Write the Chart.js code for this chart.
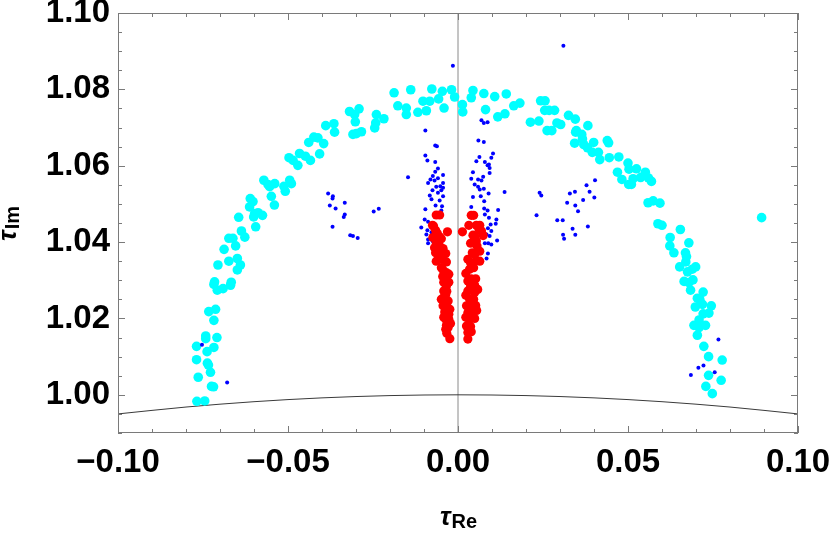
<!DOCTYPE html>
<html>
<head>
<meta charset="utf-8">
<script src="https://cdn.jsdelivr.net/npm/chart.js@4"></script>
<style>
  body { margin: 0; background: #fff; }
</style>
</head>
<body>
<canvas id="c" width="832" height="535"></canvas>
<script>
// tau plane: Re on x, Im on y
const xTicks = [-0.10, -0.05, 0.00, 0.05, 0.10];
const yTicks = [1.00, 1.02, 1.04, 1.06, 1.08, 1.10];

// cyan: big points on the outer arc
const cyanPts = [
  [-0.0188,1.0791],[-0.0139,1.0799],[-0.0077,1.0801],[-0.0046,1.0795],[-0.0019,1.0799],[-0.0010,1.0780],
  [-0.0057,1.0775],[-0.0103,1.0769],[-0.0083,1.0769],[-0.0041,1.0751],[-0.0093,1.0744],[-0.0118,1.0740],
  [-0.0152,1.0751],[-0.0152,1.0734],[-0.0177,1.0757],[-0.0291,1.0749],[-0.0319,1.0742],[-0.0304,1.0734],
  [-0.0240,1.0734],[-0.0218,1.0723],[-0.0242,1.0712],[-0.0245,1.0699],[-0.0302,1.0715],[-0.0365,1.0710],
  [-0.0389,1.0705],[-0.0363,1.0688],[-0.0309,1.0682],[-0.0299,1.0684],[-0.0284,1.0689],[-0.0439,1.0661],
  [-0.0424,1.0675],[-0.0412,1.0673],[-0.0395,1.0658],[-0.0407,1.0631],[-0.0466,1.0632],[-0.0449,1.0625],
  [-0.0434,1.0614],[-0.0497,1.0621],[-0.0485,1.0614],[-0.0471,1.0601],[-0.0571,1.0562],[-0.0559,1.0551],
  [-0.0539,1.0553],[-0.0554,1.0545],[-0.0495,1.0562],[-0.0490,1.0553],[-0.0512,1.0546],[-0.0508,1.0533],
  [-0.0549,1.0520],[-0.0540,1.0497],[-0.0611,1.0514],[-0.0603,1.0506],[-0.0613,1.0492],[-0.0598,1.0475],
  [-0.0588,1.0477],[-0.0575,1.0470],[-0.0601,1.0466],[-0.0645,1.0465],[-0.0595,1.0440],[-0.0637,1.0429],
  [-0.0627,1.0413],[-0.0674,1.0410],[-0.0662,1.0410],[-0.0654,1.0390],[-0.0688,1.0381],[-0.0649,1.0357],
  [-0.0674,1.0350],[-0.0640,1.0340],[-0.0649,1.0327],[-0.0706,1.0340],[-0.0716,1.0296],[-0.0718,1.0289],
  [-0.0708,1.0274],[-0.0691,1.0278],[-0.0667,1.0295],[-0.0669,1.0287],[-0.0733,1.0218],[-0.0713,1.0224],
  [-0.0718,1.0195],[-0.0742,1.0154],[-0.0742,1.0147],[-0.0709,1.0150],[-0.0769,1.0127],[-0.0738,1.0113],
  [-0.0718,1.0124],[-0.0769,1.0092],[-0.0737,1.0083],[-0.0734,1.0078],[-0.0728,1.0059],[-0.0764,1.0046],
  [-0.0725,1.0022],[-0.0719,1.0021],[-0.0768,0.9983],[-0.0745,0.9984],
  [0.0013,1.0760],[0.0014,1.0741],[0.0044,1.0797],[0.0039,1.0778],[0.0076,1.0789],[0.0108,1.0781],
  [0.0142,1.0788],[0.0081,1.0747],[0.0117,1.0728],[0.0138,1.0736],[0.0164,1.0757],[0.0182,1.0764],
  [0.0213,1.0714],[0.0238,1.0717],[0.0243,1.0770],[0.0256,1.0770],[0.0255,1.0745],[0.0268,1.0745],
  [0.0284,1.0745],[0.0262,1.0692],[0.0276,1.0692],[0.0291,1.0712],[0.0302,1.0708],[0.0325,1.0732],
  [0.0345,1.0722],[0.0382,1.0705],[0.0348,1.0692],[0.0346,1.0688],[0.0364,1.0682],[0.0366,1.0670],
  [0.0343,1.0659],[0.0370,1.0655],[0.0381,1.0647],[0.0399,1.0661],[0.0395,1.0635],[0.0413,1.0635],
  [0.0417,1.0616],[0.0439,1.0666],[0.0443,1.0660],[0.0445,1.0621],[0.0473,1.0623],[0.0500,1.0607],
  [0.0503,1.0591],[0.0525,1.0592],[0.0469,1.0583],[0.0482,1.0564],[0.0502,1.0551],[0.0510,1.0551],
  [0.0515,1.0566],[0.0537,1.0569],[0.0551,1.0583],[0.0560,1.0568],[0.0569,1.0559],[0.0559,1.0503],
  [0.0574,1.0508],[0.0594,1.0502],[0.0588,1.0448],[0.0600,1.0444],[0.0654,1.0433],[0.0624,1.0412],
  [0.0679,1.0398],[0.0623,1.0390],[0.0635,1.0372],[0.0669,1.0372],[0.0672,1.0362],[0.0670,1.0348],
  [0.0652,1.0335],[0.0675,1.0322],[0.0689,1.0329],[0.0699,1.0335],[0.0665,1.0297],[0.0679,1.0294],
  [0.0691,1.0301],[0.0684,1.0274],[0.0721,1.0269],[0.0704,1.0253],[0.0711,1.0250],[0.0719,1.0237],
  [0.0698,1.0230],[0.0745,1.0233],[0.0721,1.0212],[0.0738,1.0214],[0.0709,1.0196],[0.0694,1.0182],
  [0.0709,1.0176],[0.0728,1.0182],[0.0704,1.0156],[0.0723,1.0127],[0.0737,1.0100],[0.0777,1.0091],
  [0.0737,1.0051],[0.0774,1.0038],[0.0729,1.0022],[0.0748,1.0003],[0.0893,1.0464]
];

// blue: small points
const bluePts = [
  [-0.0015,1.0862],[0.0310,1.0914],[-0.0382,1.0527],[-0.0368,1.0520],[-0.0369,1.0514],[-0.0333,1.0503],
  [-0.0377,1.0496],[-0.0360,1.0488],[-0.0333,1.0472],[-0.0336,1.0466],[-0.0369,1.0440],[-0.0317,1.0418],
  [-0.0309,1.0416],[-0.0295,1.0411],[-0.0248,1.0480],[-0.0233,1.0487],[-0.0147,1.0570],[-0.0753,1.0131],
  [-0.0679,1.0032],
  [-0.0096,1.0692],[-0.0067,1.0653],[-0.0062,1.0651],[-0.0096,1.0627],[-0.0090,1.0614],[-0.0067,1.0610],
  [-0.0059,1.0593],[-0.0067,1.0584],[-0.0074,1.0573],[-0.0044,1.0576],[-0.0059,1.0567],[-0.0081,1.0564],
  [-0.0088,1.0555],[-0.0069,1.0561],[-0.0044,1.0555],[-0.0052,1.0546],[-0.0044,1.0542],[-0.0064,1.0545],
  [-0.0049,1.0536],[-0.0075,1.0536],[-0.0083,1.0522],[-0.0059,1.0529],[-0.0044,1.0520],[-0.0078,1.0512],
  [-0.0054,1.0509],[-0.0066,1.0496],[-0.0047,1.0494],[-0.0096,1.0486],[-0.0049,1.0483],[-0.0098,1.0459],
  [-0.0088,1.0453],[-0.0108,1.0438],[-0.0090,1.0431],[-0.0093,1.0420],[-0.0078,1.0426],[-0.0088,1.0407],
  [-0.0075,1.0403],[-0.0088,1.0397],[-0.0071,1.0390],
  [0.0069,1.0719],[0.0076,1.0712],[0.0087,1.0714],[0.0060,1.0666],[0.0076,1.0662],[0.0063,1.0623],
  [0.0103,1.0632],[0.0098,1.0621],[0.0054,1.0612],[0.0079,1.0610],[0.0087,1.0601],[0.0091,1.0603],
  [0.0093,1.0594],[0.0044,1.0583],[0.0039,1.0566],[0.0059,1.0564],[0.0074,1.0571],[0.0069,1.0561],
  [0.0093,1.0581],[0.0049,1.0551],[0.0059,1.0545],[0.0064,1.0538],[0.0076,1.0540],[0.0090,1.0527],
  [0.0044,1.0518],[0.0067,1.0520],[0.0077,1.0507],[0.0137,1.0531],[0.0039,1.0492],[0.0077,1.0488],
  [0.0087,1.0483],[0.0118,1.0484],[0.0079,1.0472],[0.0091,1.0464],[0.0113,1.0459],[0.0096,1.0446],
  [0.0111,1.0448],[0.0088,1.0436],[0.0098,1.0429],[0.0084,1.0420],[0.0093,1.0416],[0.0115,1.0404],
  [0.0079,1.0397],[0.0089,1.0397],[0.0098,1.0394],[0.0088,1.0370],[0.0084,1.0357],[0.0231,1.0470],
  [0.0240,1.0529],[0.0245,1.0522],
  [0.0292,1.0457],[0.0308,1.0457],[0.0329,1.0527],[0.0344,1.0532],[0.0378,1.0549],[0.0403,1.0562],
  [0.0387,1.0532],[0.0368,1.0510],[0.0401,1.0517],[0.0321,1.0503],[0.0345,1.0496],[0.0353,1.0481],
  [0.0382,1.0441],[0.0337,1.0435],[0.0309,1.0419],[0.0345,1.0419],[0.0312,1.0409],[0.0766,1.0145],
  [0.0707,1.0071],[0.0722,1.0077],[0.0685,1.0052],[0.0755,1.0059]
];

// red: the two central columns
const redPts = [
  [-0.0064,1.0471],[-0.0054,1.0471],[-0.0075,1.0444],[-0.0031,1.0427],[-0.0066,1.0431],[-0.0061,1.0423],
  [-0.0054,1.0414],[-0.0049,1.0409],[-0.0064,1.0398],[-0.0069,1.0385],[-0.0054,1.0390],[-0.0044,1.0383],
  [-0.0066,1.0372],[-0.0054,1.0370],[-0.0036,1.0370],[-0.0064,1.0350],[-0.0049,1.0355],[-0.0034,1.0348],
  [-0.0049,1.0333],[-0.0044,1.0327],[-0.0034,1.0320],[-0.0027,1.0316],[-0.0039,1.0303],[-0.0042,1.0295],
  [-0.0034,1.0285],[-0.0042,1.0272],[-0.0036,1.0263],[-0.0049,1.0250],[-0.0029,1.0246],[-0.0044,1.0233],
  [-0.0034,1.0234],[-0.0039,1.0217],[-0.0027,1.0211],[-0.0036,1.0198],[-0.0027,1.0198],[-0.0034,1.0182],
  [-0.0029,1.0176],[-0.0036,1.0172],[-0.0024,1.0147],[-0.0072,1.0442],[-0.0059,1.0407],[-0.0074,1.0412],
  [-0.0057,1.0376],[-0.0045,1.0310],[-0.0027,1.0295],[-0.0033,1.0271],[-0.0042,1.0255],[-0.0024,1.0224],
  [-0.0042,1.0203],[-0.0033,1.0161],[-0.0022,1.0187],
  [0.0039,1.0470],[0.0046,1.0470],[0.0032,1.0444],[0.0054,1.0444],[0.0064,1.0444],[0.0013,1.0427],
  [0.0062,1.0433],[0.0069,1.0429],[0.0044,1.0418],[0.0049,1.0416],[0.0074,1.0417],[0.0054,1.0403],
  [0.0056,1.0390],[0.0042,1.0372],[0.0049,1.0368],[0.0064,1.0376],[0.0029,1.0355],[0.0037,1.0346],
  [0.0054,1.0352],[0.0064,1.0350],[0.0034,1.0329],[0.0046,1.0333],[0.0039,1.0304],[0.0052,1.0304],
  [0.0029,1.0298],[0.0037,1.0285],[0.0049,1.0287],[0.0029,1.0272],[0.0049,1.0268],[0.0034,1.0250],
  [0.0046,1.0250],[0.0025,1.0233],[0.0039,1.0234],[0.0052,1.0234],[0.0029,1.0215],[0.0044,1.0214],
  [0.0034,1.0198],[0.0049,1.0200],[0.0025,1.0180],[0.0037,1.0179],[0.0029,1.0163],[0.0039,1.0165],
  [0.0029,1.0146],[0.0023,1.0261],[0.0058,1.0276],[0.0023,1.0318],[0.0055,1.0221],[0.0023,1.0203],
  [0.0037,1.0397]
];

// |tau| = 1 boundary
const arcRe = [-0.10, -0.08, -0.06, -0.04, -0.02, 0.00, 0.02, 0.04, 0.06, 0.08, 0.10];
const arcIm = [0.9950, 0.9968, 0.9982, 0.9992, 0.9998, 1.0000, 0.9998, 0.9992, 0.9982, 0.9968, 0.9950];

// Re = 0 line
const axisRe = [0, 0];
const axisIm = [0.99, 1.10];

const toXY = pts => pts.map(p => ({ x: p[0], y: p[1] }));
const fmtTick = v => v.toFixed(2).replace("-", "\u2212");
const FONT = '"Liberation Sans", Arial, sans-serif';

// frame + inward ticks on all four sides, axis titles
const framePlugin = {
  id: "frame",
  afterDraw(chart) {
    const { ctx, chartArea: a, scales } = chart;
    const xs = scales.x, ys = scales.y;
    ctx.save();
    ctx.strokeStyle = "#7a7a7a";
    ctx.lineWidth = 1;
    ctx.strokeRect(a.left + 0.5, a.top + 0.5, a.right - a.left - 1, a.bottom - a.top - 1);

    ctx.beginPath();
    for (let i = -10; i <= 10; i++) {
      const px = Math.round(xs.getPixelForValue(i / 100)) + 0.5;
      const len = i % 5 === 0 ? 7 : 4;
      ctx.moveTo(px, a.bottom); ctx.lineTo(px, a.bottom - len);
      ctx.moveTo(px, a.top); ctx.lineTo(px, a.top + len);
    }
    for (let i = 198; i <= 220; i++) {
      const py = Math.round(ys.getPixelForValue(i * 0.005)) + 0.5;
      const len = i % 4 === 0 ? 7 : 4;
      ctx.moveTo(a.left, py); ctx.lineTo(a.left + len, py);
      ctx.moveTo(a.right, py); ctx.lineTo(a.right - len, py);
    }
    ctx.stroke();

    // axis titles
    ctx.fillStyle = "#000";
    ctx.textBaseline = "alphabetic";
    const drawTitle = (sub, cx, cy, rot) => {
      ctx.save();
      ctx.translate(cx, cy);
      ctx.rotate(rot);
      ctx.font = `bold italic 26px ${FONT}`;
      const wt = ctx.measureText("\u03c4").width;
      ctx.font = `bold 20px ${FONT}`;
      const ws = ctx.measureText(sub).width;
      const x0 = -(wt + ws + 1) / 2;
      ctx.font = `bold italic 26px ${FONT}`;
      ctx.fillText("\u03c4", x0, 0);
      ctx.font = `bold 20px ${FONT}`;
      ctx.fillText(sub, x0 + wt + 1, 3);
      ctx.restore();
    };
    drawTitle("Re", 458.5, 525, 0);
    drawTitle("Im", 16, 223.5, -Math.PI / 2);
    ctx.restore();
  }
};

new Chart(document.getElementById("c"), {
  type: "scatter",
  data: {
    datasets: [
      {
        data: toXY(redPts),
        backgroundColor: "#ff0000",
        borderWidth: 0,
        pointRadius: 4.6,
        order: 0,
      },
      {
        data: toXY(bluePts),
        backgroundColor: "#0000ff",
        borderWidth: 0,
        pointRadius: 2,
        order: 1,
      },
      {
        data: toXY(cyanPts),
        backgroundColor: "#00ffff",
        borderWidth: 0,
        pointRadius: 4.8,
        order: 2,
      },
      {
        data: arcRe.map((x, i) => ({ x, y: arcIm[i] })),
        showLine: true,
        borderColor: "#3a3a3a",
        borderWidth: 1,
        pointRadius: 0,
        cubicInterpolationMode: "monotone",
        order: 3,
      },
      {
        data: axisRe.map((x, i) => ({ x, y: axisIm[i] })),
        showLine: true,
        borderColor: "#8a8a8a",
        borderWidth: 1,
        pointRadius: 0,
        order: 4,
      },
    ],
  },
  options: {
    responsive: false,
    animation: false,
    layout: { padding: { top: 13, right: 34, left: 0, bottom: 0 } },
    plugins: { legend: { display: false }, tooltip: { enabled: false } },
    scales: {
      x: {
        type: "linear",
        min: -0.10,
        max: 0.10,
        grid: { display: false, drawTicks: false },
        border: { display: false },
        ticks: {
          color: "#000",
          padding: 10,
          font: { family: FONT, size: 33, weight: "bold" },
          callback: v => fmtTick(v),
        },
        afterBuildTicks: s => { s.ticks = xTicks.map(v => ({ value: v })); },
        afterFit: s => { s.height = 102; s.paddingLeft = 0; s.paddingRight = 0; },
      },
      y: {
        type: "linear",
        min: 0.99,
        max: 1.10,
        grid: { display: false, drawTicks: false },
        border: { display: false },
        ticks: {
          color: "#000",
          padding: 8,
          font: { family: FONT, size: 33, weight: "bold" },
          callback: v => fmtTick(v),
        },
        afterBuildTicks: s => { s.ticks = yTicks.map(v => ({ value: v })); },
        afterFit: s => { s.width = 118; s.paddingTop = 0; s.paddingBottom = 0; },
      },
    },
  },
  plugins: [framePlugin],
});
</script>
</body>
</html>
